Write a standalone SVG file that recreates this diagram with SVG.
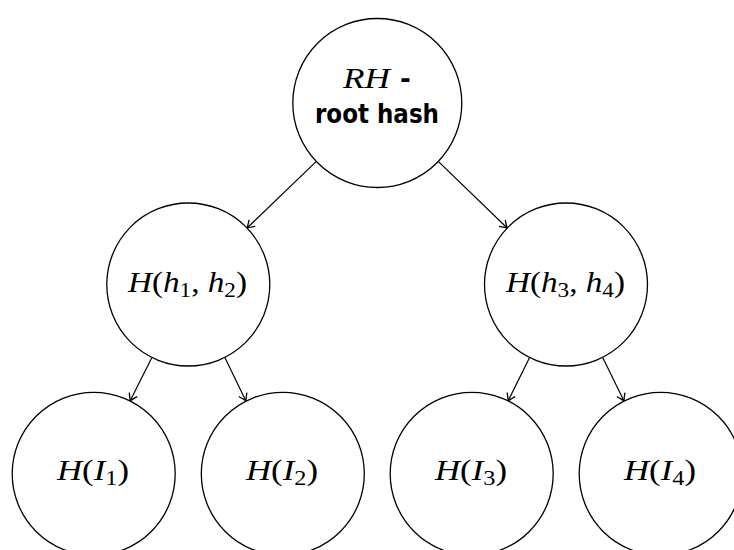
<svg xmlns="http://www.w3.org/2000/svg" width="734" height="550" viewBox="0 0 734 550">
<style>
.node{fill:#fff;stroke:#000;stroke-width:1.3}
.edge{fill:none;stroke:#000;stroke-width:1.2}
.m{font-family:"Liberation Serif","DejaVu Serif",serif;font-size:30px;fill:#000}
.i{font-style:italic}
.sub{font-size:21px}
.b{font-family:"DejaVu Sans","Liberation Sans",sans-serif;font-weight:bold;font-size:26px;fill:#000}
</style>
<defs>
<marker id="arr" viewBox="-10 -6 12 12" markerWidth="12" markerHeight="12" refX="0" refY="0" orient="auto" markerUnits="userSpaceOnUse">
<path d="M-7,-4.5 Q-2,-1 0,0 Q-2,1 -7,4.5" fill="none" stroke="#000" stroke-width="1.3"/>
</marker>
</defs>
<g id="connectors">
<line class="edge" x1="316.1" y1="161.6" x2="247.1" y2="228" marker-end="url(#arr)"/>
<line class="edge" x1="438.5" y1="161.6" x2="507.2" y2="228" marker-end="url(#arr)"/>
<line class="edge" x1="151.9" y1="357.4" x2="130.1" y2="400.9" marker-end="url(#arr)"/>
<line class="edge" x1="224.9" y1="357.4" x2="245.9" y2="400.9" marker-end="url(#arr)"/>
<line class="edge" x1="529.6" y1="357.4" x2="508.1" y2="400.9" marker-end="url(#arr)"/>
<line class="edge" x1="602.7" y1="357.4" x2="624.0" y2="400.9" marker-end="url(#arr)"/>
</g>
<g id="root">
<circle class="node" cx="377.3" cy="103" r="84.5"/>
<text class="m" x="343" y="88" textLength="47" lengthAdjust="spacingAndGlyphs"><tspan class="i">RH</tspan></text>
<text class="b" x="405.5" y="88" text-anchor="middle">-</text>
<text class="b" x="377" y="123" text-anchor="middle" textLength="124" lengthAdjust="spacingAndGlyphs">root hash</text>
</g>
<g id="h12">
<circle class="node" cx="188.3" cy="284.5" r="81.5"/>
<text class="m" x="128" y="292" textLength="119" lengthAdjust="spacingAndGlyphs"><tspan class="i">H</tspan>(<tspan class="i">h</tspan><tspan class="sub" dy="5">1</tspan><tspan dy="-5">, </tspan><tspan class="i">h</tspan><tspan class="sub" dy="5">2</tspan><tspan dy="-5">)</tspan></text>
</g>
<g id="h34">
<circle class="node" cx="566" cy="284.5" r="81.5"/>
<text class="m" x="506" y="292" textLength="119" lengthAdjust="spacingAndGlyphs"><tspan class="i">H</tspan>(<tspan class="i">h</tspan><tspan class="sub" dy="5">3</tspan><tspan dy="-5">, </tspan><tspan class="i">h</tspan><tspan class="sub" dy="5">4</tspan><tspan dy="-5">)</tspan></text>
</g>
<g id="i1">
<circle class="node" cx="93.7" cy="473.8" r="81.5"/>
<text class="m" x="57" y="480" textLength="72" lengthAdjust="spacingAndGlyphs"><tspan class="i">H</tspan>(<tspan class="i">I</tspan><tspan class="sub" dy="5">1</tspan><tspan dy="-5">)</tspan></text>
</g>
<g id="i2">
<circle class="node" cx="282.8" cy="473.8" r="81.5"/>
<text class="m" x="246" y="480" textLength="72" lengthAdjust="spacingAndGlyphs"><tspan class="i">H</tspan>(<tspan class="i">I</tspan><tspan class="sub" dy="5">2</tspan><tspan dy="-5">)</tspan></text>
</g>
<g id="i3">
<circle class="node" cx="471.7" cy="473.8" r="81.5"/>
<text class="m" x="435" y="480" textLength="72" lengthAdjust="spacingAndGlyphs"><tspan class="i">H</tspan>(<tspan class="i">I</tspan><tspan class="sub" dy="5">3</tspan><tspan dy="-5">)</tspan></text>
</g>
<g id="i4">
<circle class="node" cx="660.7" cy="473.8" r="81.5"/>
<text class="m" x="624" y="480" textLength="72" lengthAdjust="spacingAndGlyphs"><tspan class="i">H</tspan>(<tspan class="i">I</tspan><tspan class="sub" dy="5">4</tspan><tspan dy="-5">)</tspan></text>
</g>
</svg>
